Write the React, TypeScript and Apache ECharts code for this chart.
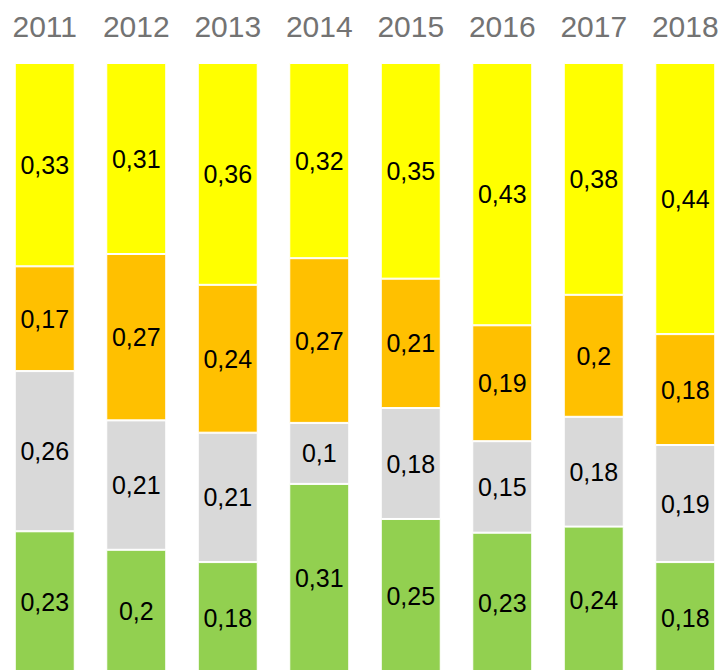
import React, { useEffect, useRef } from "react";
import * as echarts from "echarts";

const years = ["2011", "2012", "2013", "2014", "2015", "2016", "2017", "2018"];
const greenValues = [0.23, 0.2, 0.18, 0.31, 0.25, 0.23, 0.24, 0.18];
const grayValues = [0.26, 0.21, 0.21, 0.1, 0.18, 0.15, 0.18, 0.19];
const orangeValues = [0.17, 0.27, 0.24, 0.27, 0.21, 0.19, 0.2, 0.18];
const yellowValues = [0.33, 0.31, 0.36, 0.32, 0.35, 0.43, 0.38, 0.44];

const seriesDefs = [
  { name: "green", values: greenValues, color: "#92D050" },
  { name: "gray", values: grayValues, color: "#D9D9D9" },
  { name: "orange", values: orangeValues, color: "#FFC000" },
  { name: "yellow", values: yellowValues, color: "#FFFF00" },
];

export default function App() {
  const ref = useRef<HTMLDivElement>(null);
  useEffect(() => {
    if (!ref.current) return;
    const chart = echarts.init(ref.current, undefined, { renderer: "svg" });
    const totals = years.map((_, i) =>
      seriesDefs.reduce((s, d) => s + d.values[i], 0)
    );
    chart.setOption({
      animation: false,
      backgroundColor: "#ffffff",
      grid: {
        left: -1,
        right: -6,
        top: 63,
        bottom: -3,
        containLabel: false,
        outerBoundsMode: "none",
      },
      xAxis: {
        type: "category",
        data: years,
        position: "top",
        axisLine: { show: false },
        axisTick: { show: false },
        axisLabel: {
          color: "#737373",
          fontSize: 30,
          fontFamily: "Liberation Sans, Arial, sans-serif",
          margin: 22,
        },
      },
      yAxis: {
        type: "value",
        min: 0,
        max: 1,
        show: false,
        splitLine: { show: false },
      },
      series: seriesDefs.map((d) => ({
        name: d.name,
        type: "bar",
        stack: "total",
        barWidth: 60,
        data: d.values.map((v, i) => ({ value: v / totals[i] })),
        itemStyle: { color: d.color, borderColor: "#ffffff", borderWidth: 1 },
        label: {
          show: true,
          position: "inside",
          color: "#000000",
          fontSize: 25,
          fontFamily: "Liberation Sans, Arial, sans-serif",
          textBorderWidth: 0,
          formatter: (p: any) => String(d.values[p.dataIndex]).replace(".", ","),
        },
      })),
    });
    return () => chart.dispose();
  }, []);
  return (
    <div
      ref={ref}
      style={{ position: "fixed", left: 0, top: 0, width: 725, height: 670 }}
    />
  );
}
